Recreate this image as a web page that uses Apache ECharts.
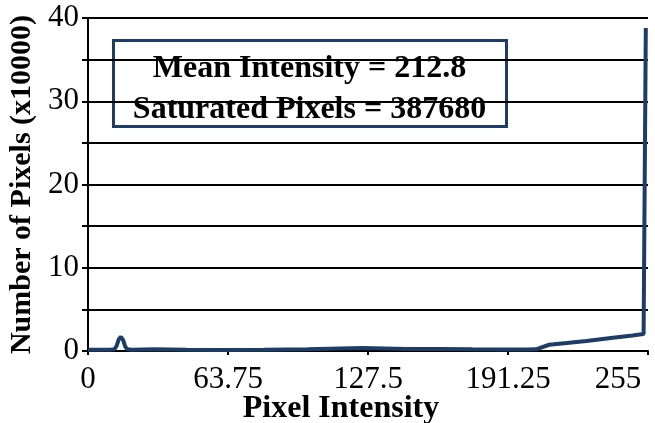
<!DOCTYPE html>
<html>
<head>
<meta charset="utf-8">
<script src="https://cdn.jsdelivr.net/npm/echarts@6/dist/echarts.min.js"></script>
<style>
html,body{margin:0;padding:0;background:#fff;}
#c{width:655px;height:423px;}
</style>
</head>
<body>
<div id="c"></div>
<script>
// Pixel intensity (x) and number of pixels (x10000) (y)
const intensity = [0, 5, 10, 12, 13, 14, 15, 16, 17, 18, 20, 30, 45, 60, 80, 100, 115, 125, 135, 145, 160, 175, 190, 200, 204, 210, 218, 227, 239, 248, 252, 253, 254];
const pixelCount = [0.15, 0.15, 0.15, 0.2, 0.6, 1.4, 1.7, 1.3, 0.5, 0.2, 0.15, 0.2, 0.15, 0.12, 0.15, 0.2, 0.3, 0.35, 0.3, 0.25, 0.25, 0.2, 0.18, 0.18, 0.2, 0.75, 0.95, 1.2, 1.6, 1.85, 2.0, 2.05, 38.8];
const xTicks = [0, 63.75, 127.5, 191.25, 255];
const yLabels = [0, 10, 20, 30, 40];
const annotation = ['Mean Intensity = 212.8', 'Saturated Pixels = 387680'];

const serif = '"Liberation Serif", "Times New Roman", serif';
const navy = '#1d3d66';

const chart = echarts.init(document.getElementById('c'), null, {renderer: 'canvas'});
chart.setOption({
  animation: false,
  backgroundColor: '#fff',
  grid: {left: 88, right: 7, top: 18, bottom: 72, containLabel: false, outerBoundsMode: 'none'},
  xAxis: {
    type: 'value', min: xTicks[0], max: xTicks[xTicks.length - 1], interval: xTicks[1] - xTicks[0],
    name: 'Pixel Intensity', nameLocation: 'middle', nameGap: 42, nameMoveOverlap: false,
    nameTextStyle: {fontFamily: serif, fontWeight: 'bold', fontSize: 32, color: '#000', padding: [0, 54, 0, 0]},
    axisLine: {show: true, lineStyle: {color: '#000', width: 2}},
    axisTick: {show: true, length: 4, lineStyle: {color: '#000', width: 2}},
    axisLabel: {
      fontFamily: serif, fontSize: 31, color: '#000', margin: 13,
      formatter: function (v) { return v === xTicks[xTicks.length - 1] ? '{r|' + v + '}' : String(v); },
      rich: {r: {fontFamily: serif, fontSize: 31, color: '#000', padding: [0, 0, 0, -60]}}
    },
    splitLine: {show: false}
  },
  yAxis: {
    type: 'value', min: 0, max: 40, interval: 5,
    name: 'Number of Pixels (x10000)', nameLocation: 'middle', nameGap: 51, nameMoveOverlap: false,
    nameTextStyle: {fontFamily: serif, fontWeight: 'bold', fontSize: 30, color: '#000'},
    axisLine: {show: true, lineStyle: {color: '#000', width: 2}},
    axisTick: {show: true, length: 6, lineStyle: {color: '#000', width: 2}},
    axisLabel: {
      fontFamily: serif, fontSize: 31, color: '#000', margin: 9,
      formatter: function (v) { return yLabels.indexOf(v) >= 0 ? String(v) : ''; }
    },
    splitLine: {show: true, lineStyle: {color: '#000', width: 2}}
  },
  series: [{
    type: 'line',
    data: intensity.map((x, i) => [x, pixelCount[i]]),
    showSymbol: false,
    smooth: false,
    lineStyle: {color: navy, width: 4},
    z: 3
  }],
  graphic: [{
    type: 'group', left: 112, top: 39, z: 10,
    children: [
      {type: 'rect', shape: {x: 0, y: 0, width: 393, height: 86}, style: {fill: '#fff', stroke: navy, lineWidth: 3}},
      {type: 'text', x: 196, y: 28, style: {text: annotation[0], font: 'bold 32px ' + serif, fill: '#000', align: 'center', verticalAlign: 'middle'}},
      {type: 'text', x: 196, y: 69, style: {text: annotation[1], font: 'bold 32px ' + serif, fill: '#000', align: 'center', verticalAlign: 'middle'}}
    ]
  }]
});
</script>
</body>
</html>
